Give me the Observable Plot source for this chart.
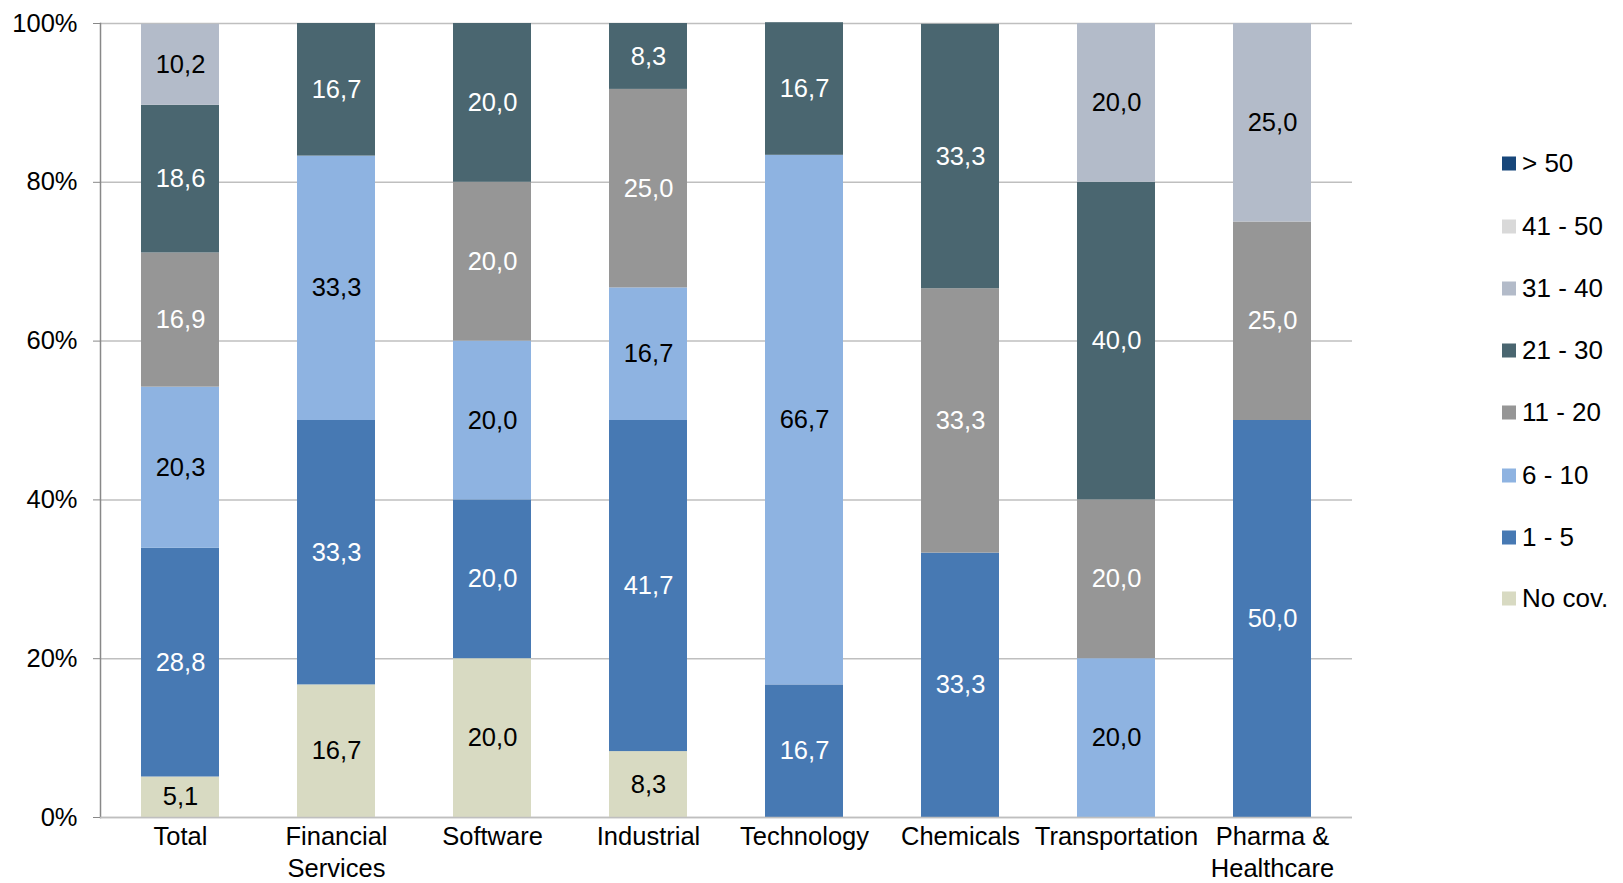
<!DOCTYPE html>
<html>
<head>
<meta charset="utf-8">
<script src="https://cdn.jsdelivr.net/npm/d3@7"></script>
<script src="https://cdn.jsdelivr.net/npm/@observablehq/plot@0.6"></script>
<style>
  html, body { margin: 0; padding: 0; background: #fff; }
  #wrap { position: relative; width: 1623px; height: 883px; font-family: "Liberation Sans", Arial, sans-serif; }
  #legend { position: absolute; left: 1502px; top: 0; }
  .item { position: absolute; left: 0; display: flex; align-items: center; white-space: nowrap; font-size: 26px; color: #000; transform: translateY(-50%); }
  .sw { width: 14px; height: 14px; margin-right: 6px; flex: none; }
</style>
</head>
<body>
<div id="wrap"><div id="chart"></div><div id="legend"></div></div>
<script>
const categories = ["Total", "Financial Services", "Software", "Industrial", "Technology", "Chemicals", "Transportation", "Pharma & Healthcare"];
const categoryLabels = ["Total", "Financial\nServices", "Software", "Industrial", "Technology", "Chemicals", "Transportation", "Pharma &\nHealthcare"];
// stacking order bottom -> top
const series = ["No cov.", "1 - 5", "6 - 10", "11 - 20", "21 - 30", "31 - 40", "41 - 50", "> 50"];
const colors = ["#D8DAC2", "#4779B3", "#8EB3E1", "#969696", "#4A6670", "#B3BBC9", "#D9D9D9", "#17467A"];
const labelColors = ["#000", "#fff", "#000", "#fff", "#fff", "#000", "#000", "#fff"];

const noCov   = [5.1, 16.7, 20.0, 8.3, 0, 0, 0, 0];
const s1to5   = [28.8, 33.3, 20.0, 41.7, 16.7, 33.3, 0, 50.0];
const s6to10  = [20.3, 33.3, 20.0, 16.7, 66.7, 0, 20.0, 0];
const s11to20 = [16.9, 0, 20.0, 25.0, 0, 33.3, 20.0, 25.0];
const s21to30 = [18.6, 16.7, 20.0, 8.3, 16.7, 33.3, 40.0, 0];
const s31to40 = [10.2, 0, 0, 0, 0, 0, 20.0, 25.0];
const s41to50 = [0, 0, 0, 0, 0, 0, 0, 0];
const sOver50 = [0, 0, 0, 0, 0, 0, 0, 0];
const yTicks = [0, 20, 40, 60, 80, 100];

const seriesValues = [noCov, s1to5, s6to10, s11to20, s21to30, s31to40, s41to50, sOver50];
const rows = [];
series.forEach((s, si) => {
  categories.forEach((c, ci) => {
    const v = seriesValues[si][ci];
    if (v > 0) rows.push({category: c, series: s, value: v});
  });
});

const fmt = v => v.toFixed(1).replace(".", ",");
const font = "Liberation Sans, Arial, sans-serif";
const fs = 25.5;

const plot = Plot.plot({
  width: 1623,
  height: 883,
  marginLeft: 100,
  marginRight: 271,
  marginTop: 23,
  marginBottom: 66,
  style: {fontFamily: font, fontSize: fs + "px", color: "#000", background: "#fff"},
  x: {domain: categories, paddingInner: 0.5, paddingOuter: 0.25, label: null},
  y: {domain: [0, 100], label: null},
  color: {domain: series, range: colors},
  marks: [
    Plot.gridY(yTicks, {stroke: "#BFBFBF", strokeOpacity: 1, strokeWidth: 1.5}),
    Plot.barY(rows, {x: "category", y: "value", fill: "series", order: series}),
    Plot.text(rows, Plot.stackY({
      x: "category", y: "value", z: "series", order: series,
      text: d => fmt(d.value),
      fill: d => labelColors[series.indexOf(d.series)],
      fontSize: fs
    })),
    Plot.axisY(yTicks, {tickSize: 7, tickPadding: 16, stroke: "#888", tickFormat: d => d + "%", fontSize: fs, fill: "#000"}),
    Plot.axisX({tickSize: 0, tickPadding: 4, tickFormat: d => categoryLabels[categories.indexOf(d)], fontSize: fs, lineHeight: 1.28, fill: "#000"}),
    Plot.frame({anchor: "left", stroke: "#888", strokeWidth: 1.5}),
    Plot.ruleY([0], {stroke: "#BFBFBF", strokeWidth: 1.5})
  ]
});
document.getElementById("chart").appendChild(plot);

// legend (top to bottom: reversed series)
const legend = document.getElementById("legend");
const legendY = [163, 226, 288, 350, 412, 475, 537, 598];
series.slice().reverse().forEach((s, i) => {
  const item = document.createElement("div");
  item.className = "item";
  item.style.top = legendY[i] + "px";
  const sw = document.createElement("span");
  sw.className = "sw";
  sw.style.background = colors[series.indexOf(s)];
  const t = document.createElement("span");
  t.textContent = s;
  item.appendChild(sw);
  item.appendChild(t);
  legend.appendChild(item);
});
</script>
</body>
</html>
